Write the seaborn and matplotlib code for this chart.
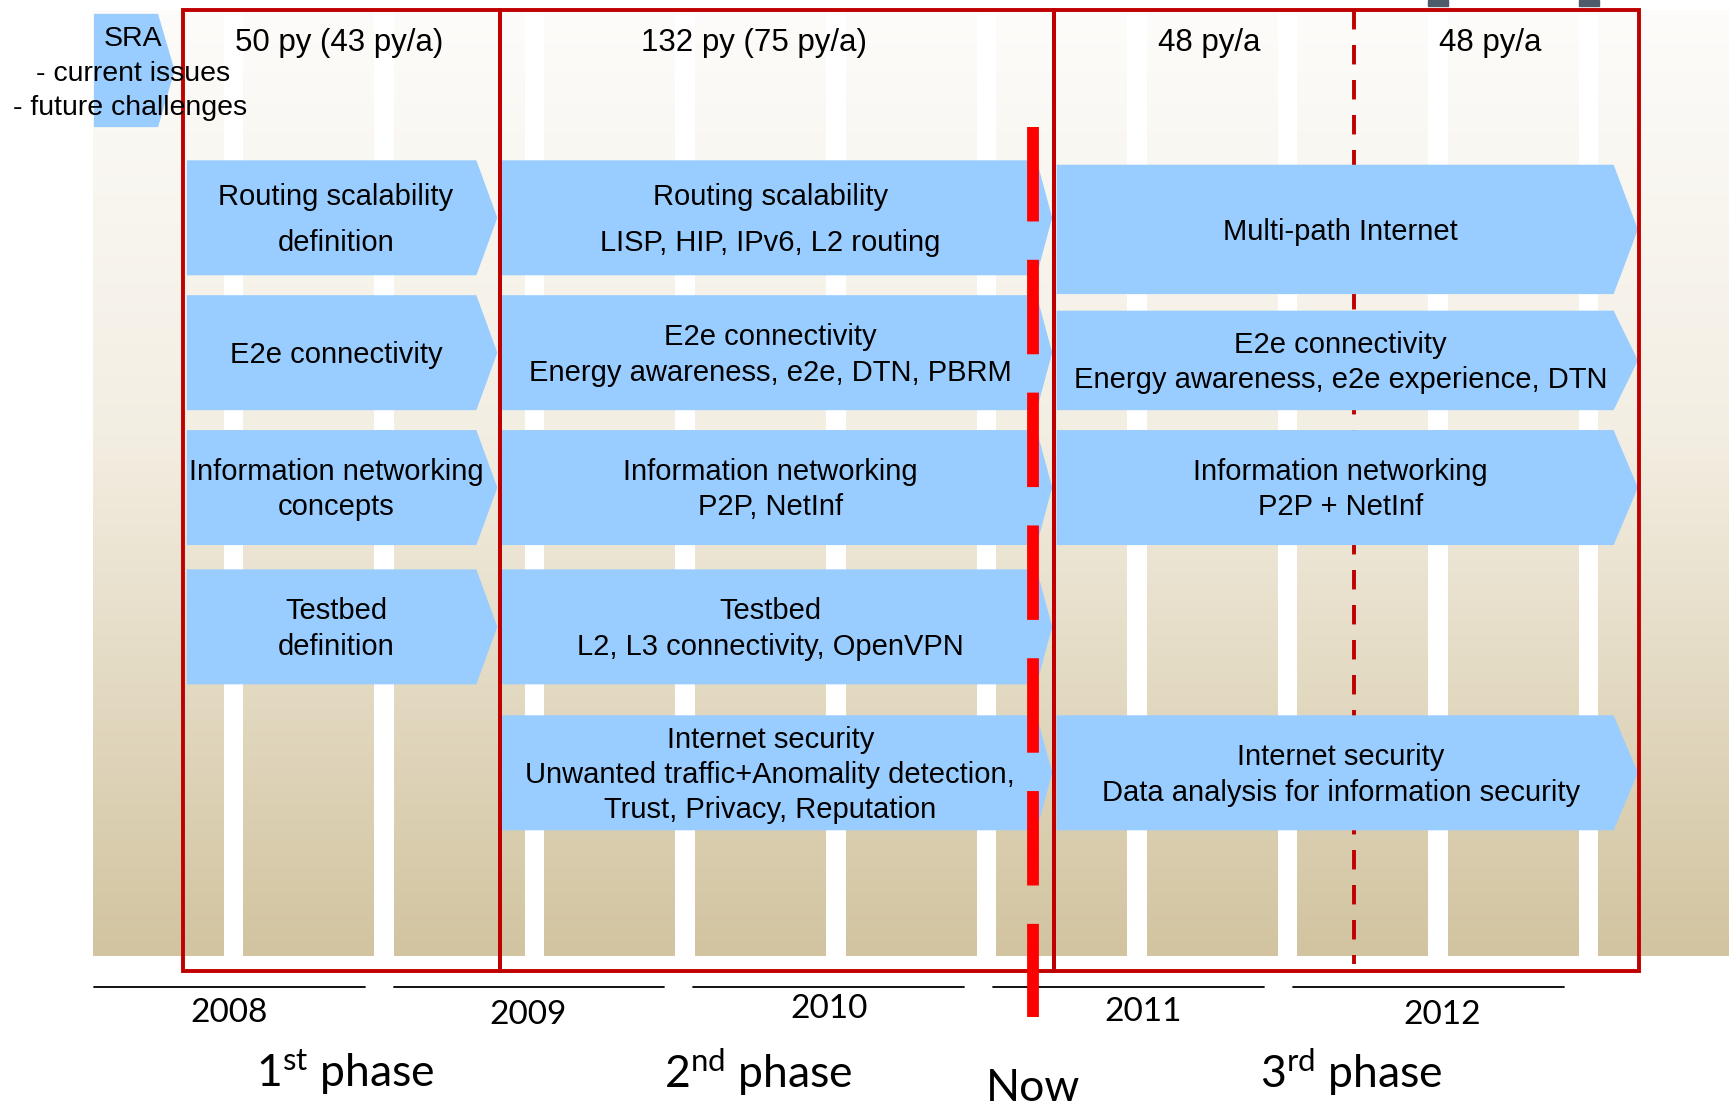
import numpy as np
import matplotlib
matplotlib.use("Agg")
import matplotlib.pyplot as plt
from matplotlib.patches import Polygon, Rectangle
from matplotlib.colors import LinearSegmentedColormap
import seaborn as sns

# ---- content ----
years = ["2008", "2009", "2010", "2011", "2012"]
phase_labels = [r"1$^{\mathrm{st}}$ phase", r"2$^{\mathrm{nd}}$ phase", r"3$^{\mathrm{rd}}$ phase"]
now_label = "Now"
effort_labels = ["50 py (43 py/a)", "132 py (75 py/a)", "48 py/a", "48 py/a"]
sra_lines = ["SRA", "- current issues", "- future challenges"]
n_half_years = 11

phase1_topics = [
    ["Routing scalability", "definition"],
    ["E2e connectivity"],
    ["Information networking", "concepts"],
    ["Testbed", "definition"],
    None,
]
phase2_topics = [
    ["Routing scalability", "LISP, HIP, IPv6, L2 routing"],
    ["E2e connectivity", "Energy awareness, e2e, DTN, PBRM"],
    ["Information networking", "P2P, NetInf"],
    ["Testbed", "L2, L3 connectivity, OpenVPN"],
    ["Internet security", "Unwanted traffic+Anomality detection,", "Trust, Privacy, Reputation"],
]
phase3_topics = [
    ["Multi-path Internet"],
    ["E2e connectivity", "Energy awareness, e2e experience, DTN"],
    ["Information networking", "P2P + NetInf"],
    None,
    ["Internet security", "Data analysis for information security"],
]

# ---- layout (working units, 1568 x 1004) ----
W, H = 1568, 1004
col_left, col_width, col_step = 84, 118.5, 136.2
col_top, col_bottom = 10, 865
year_left, year_step, year_len, year_line_y = 85, 271.2, 245, 893
year_text_x = [207, 478, 750, 1034, 1305]
year_text_y = [916, 918, 913, 915, 918]
phase_text_x = [312, 686, 1223]
phase_text_y = 970
now_x, now_top, now_bottom = 934.5, 114.5, 920

rows_12 = [(145, 249), (267, 371), (389, 493), (515, 619), (647, 751)]
rows_3 = [(149, 266), (281, 371), (389, 493), None, (647, 751)]
phase_geom = [(169, 431, 450), (453, 938, 952), (956, 1460, 1482)]
text_cx = [304, 697, 1213]
red_boxes = [(166, 452), (452, 954), (954, 1483)]
red_top, red_bottom = 9, 878
dashed_x = 1225
effort_x = [307, 682, 1094, 1348]

blue = "#99CCFF"
dark_red = "#C00000"
box_font = "Liberation Sans"
label_font = "Lato"

sns.set_theme(style="white")
plt.rcParams["mathtext.fontset"] = "custom"
plt.rcParams["mathtext.rm"] = label_font
plt.rcParams["mathtext.it"] = label_font
plt.rcParams["mathtext.bf"] = label_font

fig = plt.figure(figsize=(17.33, 11.10), dpi=100)
ax = fig.add_axes([0, 0, 1, 1])
ax.set_xlim(0, W)
ax.set_ylim(H, 0)
ax.axis("off")

# background half-year columns with vertical gradient
beige = LinearSegmentedColormap.from_list(
    "beige", [(0, "#FDFCFA"), (0.45, "#F3EEE2"), (1, "#D2C4A0")])
grad = np.linspace(0, 1, 256).reshape(-1, 1)
for i in range(n_half_years):
    x0 = col_left + i * col_step
    ax.imshow(grad, cmap=beige, aspect="auto", origin="upper",
              extent=(x0, x0 + col_width, col_bottom, col_top), zorder=0)

# small grey marks on the top edge
for gx in [1292, 1429]:
    ax.add_patch(Rectangle((gx, 0), 18, 5, color="#4D5B6B", zorder=1))

# year axis
for i, yr in enumerate(years):
    x0 = year_left + i * year_step
    ax.plot([x0, x0 + year_len], [year_line_y, year_line_y], color="black", lw=1.3, zorder=2)
    ax.text(year_text_x[i], year_text_y[i], yr, ha="center", va="center",
            fontsize=24, family=label_font, color="black")

for x, lab in zip(phase_text_x, phase_labels):
    ax.text(x, phase_text_y, lab, ha="center", va="center", fontsize=32,
            family=label_font, color="black")
ax.text(now_x, 985, now_label, ha="center", va="center", fontsize=32,
        family=label_font, color="black")


def arrow_box(x0, xb, xt, y0, y1, z=3):
    pts = [(x0, y0), (xb, y0), (xt, (y0 + y1) / 2), (xb, y1), (x0, y1)]
    ax.add_patch(Polygon(pts, closed=True, facecolor=blue, edgecolor="none", zorder=z))


def box_text(cx, cy, lines, spacing, size=21):
    n = len(lines)
    for k, line in enumerate(lines):
        ax.text(cx, cy + 2 + (k - (n - 1) / 2) * spacing, line, ha="center", va="center",
                fontsize=size, family=box_font, color="black", zorder=6)


# SRA arrow
arrow_box(85, 143, 158, 12.5, 115)
for k, line in enumerate(sra_lines):
    ax.text([120, 120, 118][k], 35 + k * 31.5, line, ha="center", va="center",
            fontsize=20.5, family=box_font, color="black", zorder=6)

# dashed divider in phase 3 (behind boxes)
ax.plot([dashed_x, dashed_x], [red_top, 872], color=dark_red, lw=2.8,
        linestyle=(0, (5, 4)), zorder=2)

# topic arrows
for p, topics in enumerate([phase1_topics, phase2_topics, phase3_topics]):
    rows = rows_3 if p == 2 else rows_12
    x0, xb, xt = phase_geom[p]
    for r, lines in enumerate(topics):
        if lines is None:
            continue
        y0, y1 = rows[r]
        arrow_box(x0, xb, xt, y0, y1)
        spacing = 42 if (r == 0 and len(lines) == 2) else 32
        box_text(text_cx[p], (y0 + y1) / 2, lines, spacing)

# phase frames
for xa, xb in red_boxes:
    ax.add_patch(Rectangle((xa, red_top), xb - xa, red_bottom - red_top, fill=False,
                           edgecolor=dark_red, lw=2.8, zorder=4))

for x, lab in zip(effort_x, effort_labels):
    ax.text(x, 39, lab, ha="center", va="center", fontsize=22.5, family=box_font,
            color="black", zorder=6)

# "Now" marker
ax.plot([now_x, now_x], [now_top, now_bottom], color="#FF0000", lw=8.5,
        linestyle=(0, (8.0, 3.25)), solid_capstyle="butt", dash_capstyle="butt", zorder=7)

fig.savefig("out.png", dpi=100)
